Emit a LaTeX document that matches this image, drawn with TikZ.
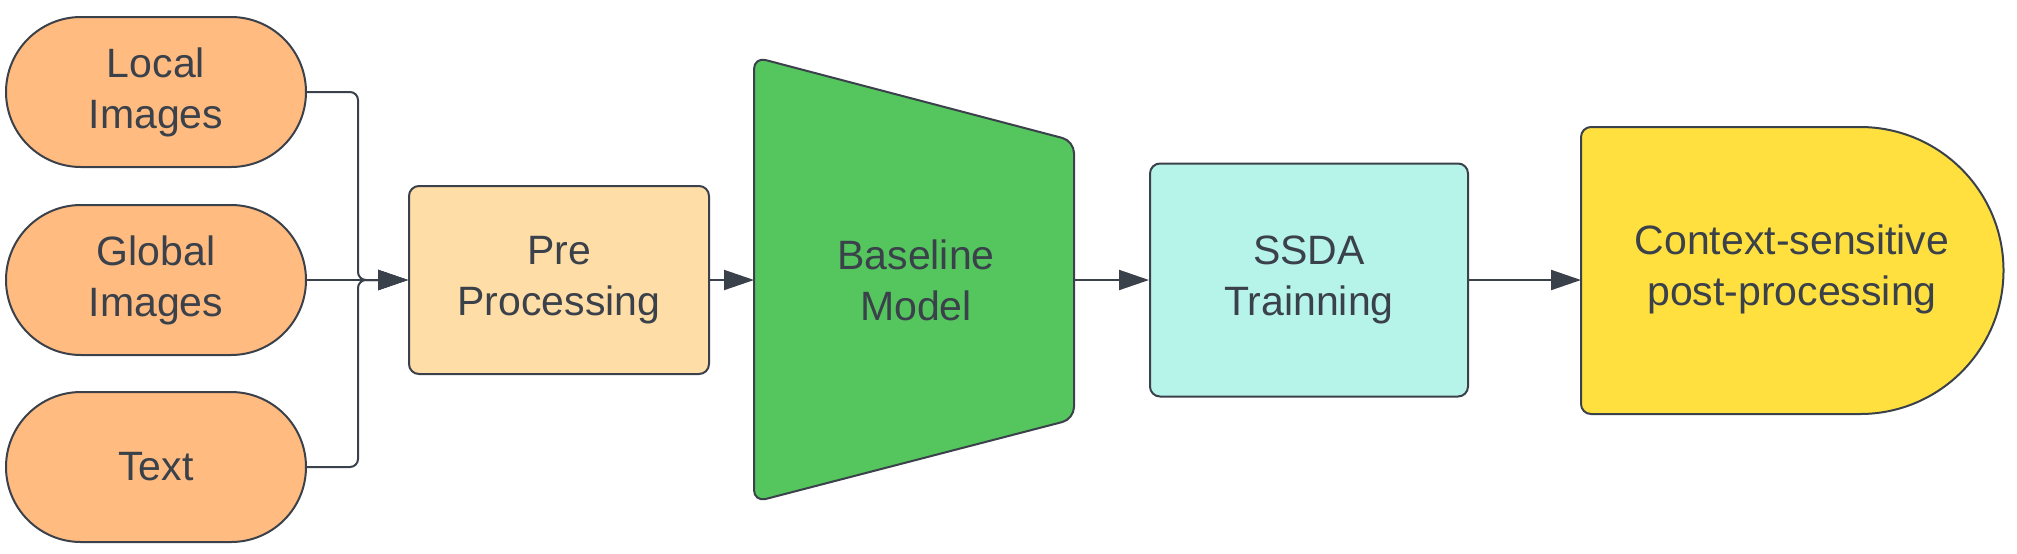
\documentclass[tikz,border=0pt]{standalone}
\usepackage{fontspec}
\setmainfont{Liberation Sans}
\usetikzlibrary{arrows.meta}
\definecolor{ink}{HTML}{3A414A}
\definecolor{inputfill}{HTML}{FFBB80}
\definecolor{prefill}{HTML}{FFDDA6}
\definecolor{basefill}{HTML}{55C55E}
\definecolor{ssdafill}{HTML}{B6F4EA}
\definecolor{ctxfill}{HTML}{FFE03F}
\begin{document}
\begin{tikzpicture}[x=0.5pt,y=-0.5pt,
		font=\fontsize{20.5}{25.5}\selectfont,text=ink,
		block/.style={draw=ink,line width=1pt,align=center,inner sep=0pt},
		inbox/.style={block,fill=inputfill,rounded corners=37.5pt,minimum width=150pt,minimum height=75pt},
		arr/.style={draw=ink,line width=1pt,-{Triangle[length=15pt,width=10pt]}}]
		\useasboundingbox(0,0)rectangle(2017,553);
		\node[inbox](local)at(156,92){Local\\Images};
		\node[inbox](global)at(156,280){Global\\Images};
		\node[inbox](txt)at(156,467){Text};
		\node[block,fill=prefill,rounded corners=5pt,minimum width=150pt,minimum height=94pt](pre)at(559,280){Pre\\Processing};
		\draw[block,fill=basefill,rounded corners=6pt](754,57)--(1074,141)--(1074,419)--(754,502)--cycle;
		\node[align=center](base)at(916,280){Baseline\\Model};
		\coordinate(basein)at(754,280);
		\coordinate(baseout)at(1074,280);
		\node[block,fill=ssdafill,rounded corners=5pt,minimum width=159pt,minimum height=116.5pt](ssda)at(1309,280){SSDA\\Trainning};
		\draw[block,fill=ctxfill](1860,127)--(1591,127)arc(270:180:10)--(1581,404)arc(180:90:10)
			--(1860,414)arc(90:-90:143.5)--cycle;
		\node[align=center](ctx)at(1792,269){Context-sensitive\\post-processing};
		\coordinate(ctxin)at(1581,280);
		\draw[arr,rounded corners=4pt](local.east)--++(51,0)|-(pre.west);
		\draw[arr,rounded corners=4pt](txt.east)--++(51,0)|-(pre.west);
		\draw[arr](global.east)--(pre.west);
		\draw[arr](pre.east)--(basein);
		\draw[arr](baseout)--(ssda.west);
		\draw[arr](ssda.east)--(ctxin);
	\end{tikzpicture}
\end{document}
